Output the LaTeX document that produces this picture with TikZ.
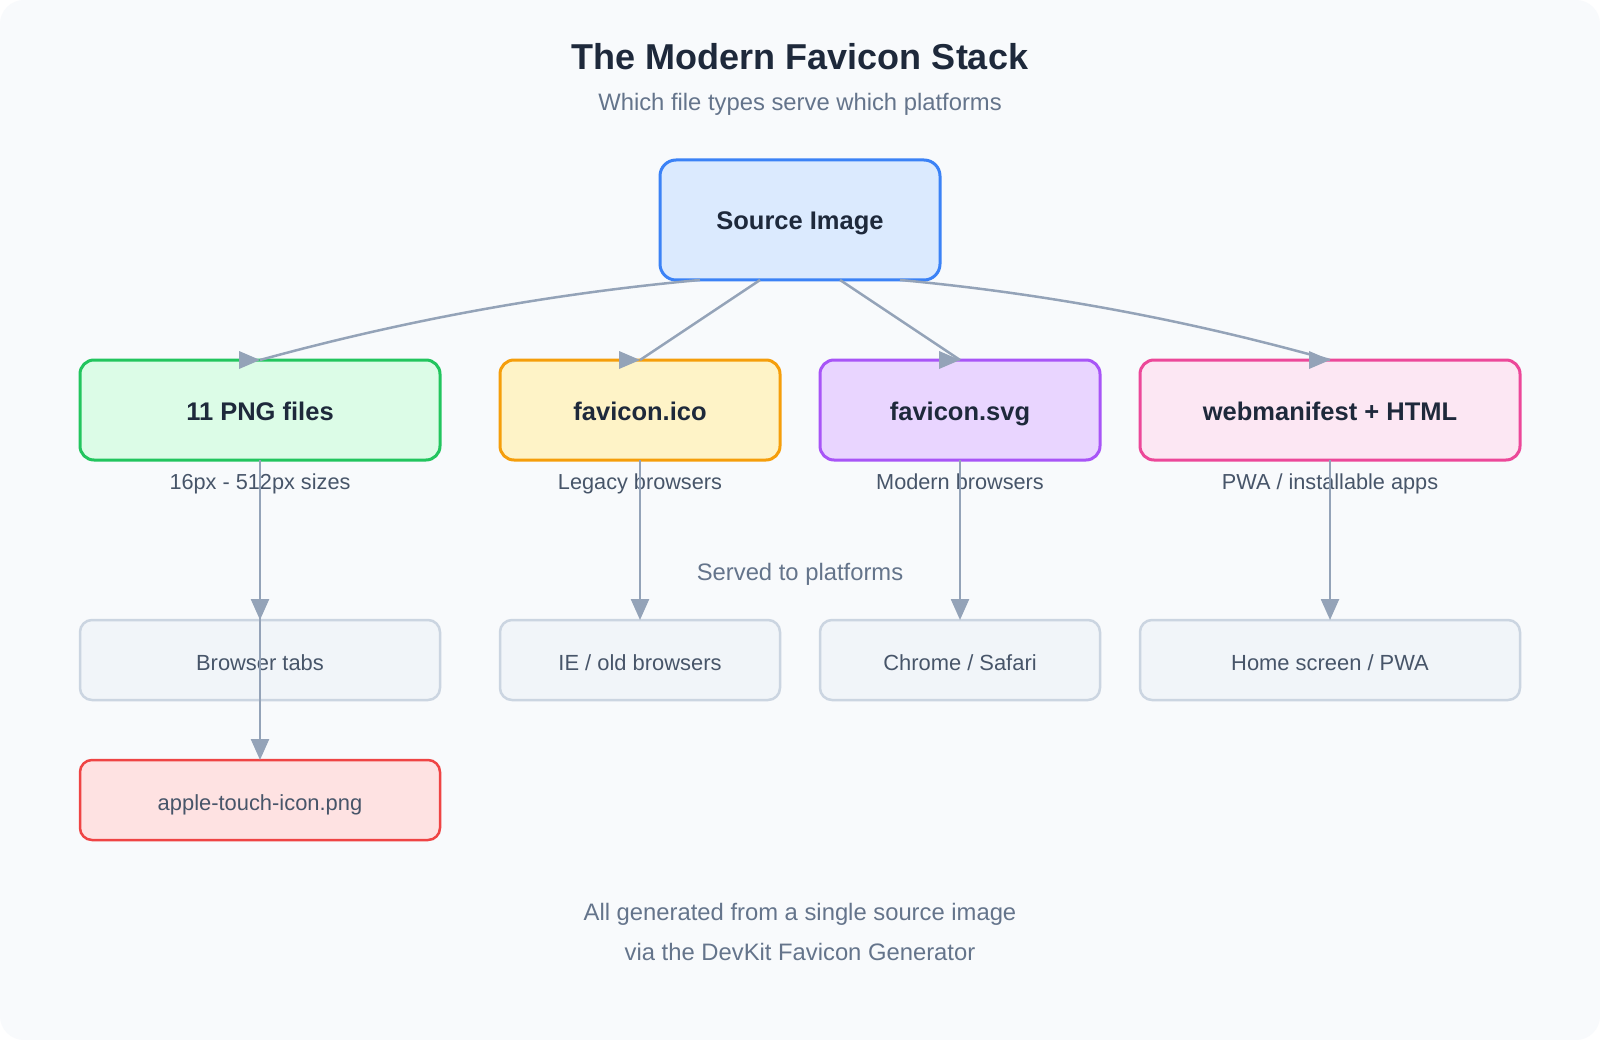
\documentclass[tikz,border=0pt]{standalone}
\usepackage{fontspec}
\setmainfont{Liberation Sans}
\usetikzlibrary{arrows.meta,calc}
\definecolor{bgc}{HTML}{F8FAFC}
\definecolor{ink}{HTML}{1E293B}
\definecolor{muted}{HTML}{64748B}
\definecolor{subc}{HTML}{475569}
\definecolor{arrowc}{HTML}{94A3B8}
\definecolor{srcfill}{HTML}{DBEAFE}\definecolor{srcline}{HTML}{3B82F6}
\definecolor{pngfill}{HTML}{DCFCE7}\definecolor{pngline}{HTML}{22C55E}
\definecolor{icofill}{HTML}{FEF3C7}\definecolor{icoline}{HTML}{F59E0B}
\definecolor{svgfill}{HTML}{E9D5FF}\definecolor{svgline}{HTML}{A855F7}
\definecolor{webfill}{HTML}{FCE7F3}\definecolor{webline}{HTML}{EC4899}
\definecolor{platfill}{HTML}{F1F5F9}\definecolor{platline}{HTML}{CBD5E1}
\definecolor{applefill}{HTML}{FEE2E2}\definecolor{appleline}{HTML}{EF4444}
\tikzset{
  mainbox/.style={rectangle, rounded corners=14pt, line width=3pt, inner sep=0pt, outer sep=0pt,
    minimum height=100pt, text height=20pt, text depth=0pt, text=ink,
    font=\fontsize{25.5}{30}\selectfont\bfseries},
  platbox/.style={rectangle, rounded corners=12pt, line width=2.5pt, inner sep=0pt, outer sep=0pt,
    draw=platline, fill=platfill, minimum height=80pt, text height=20pt, text depth=0pt, text=subc,
    font=\fontsize{21.9}{26}\selectfont},
  sublabel/.style={anchor=base, inner sep=0pt, text=subc, font=\fontsize{21.7}{26}\selectfont},
  note/.style={anchor=base, inner sep=0pt, text=muted, font=\fontsize{23.8}{28}\selectfont},
  conn/.style={draw=arrowc, line width=2.5pt},
  varrow/.style={conn, -{Triangle[length=21pt,width=18pt]}},
  rhead/.pic={\fill[arrowc] (0,0) -- (-21,-9) -- (-21,9) -- cycle;}
}
\begin{document}
\begin{tikzpicture}[x=1pt,y=-1pt]
\useasboundingbox (0,0) rectangle (1600,1040);
\fill[white] (0,0) rectangle (1600,1040);
\fill[bgc, rounded corners=24pt] (0,0) rectangle (1600,1040);

% titles
\node[anchor=base, inner sep=0pt, text=ink, font=\fontsize{36}{43}\selectfont\bfseries] (title) at (800,70) {The Modern Favicon Stack};
\node[note] (subtitle) at (800,111) {Which file types serve which platforms};

% source
\node[mainbox, draw=srcline, fill=srcfill, minimum width=280pt, minimum height=120pt, rounded corners=16pt] (src) at (800,220) {Source Image};

% formats
\node[mainbox, draw=pngline, fill=pngfill, minimum width=360pt] (png) at (260,410) {11 PNG files};
\node[mainbox, draw=icoline, fill=icofill, minimum width=280pt] (ico) at (640,410) {favicon.ico};
\node[mainbox, draw=svgline, fill=svgfill, minimum width=280pt] (svg) at (960,410) {favicon.svg};
\node[mainbox, draw=webline, fill=webfill, minimum width=380pt] (web) at (1330,410) {webmanifest + HTML};

\node[sublabel] (pngsub) at (260,489) {16px - 512px sizes};
\node[sublabel] (icosub) at (640,489) {Legacy browsers};
\node[sublabel] (svgsub) at (960,489) {Modern browsers};
\node[sublabel] (websub) at (1330,489) {PWA / installable apps};

\node[note] (served) at (800,580) {Served to platforms};

% platforms
\node[platbox, minimum width=360pt] (tabs) at (260,660) {Browser tabs};
\node[platbox, minimum width=280pt] (ie) at (640,660) {IE / old browsers};
\node[platbox, minimum width=280pt] (chrome) at (960,660) {Chrome / Safari};
\node[platbox, minimum width=380pt] (home) at (1330,660) {Home screen / PWA};

\node[platbox, draw=appleline, fill=applefill, minimum width=360pt] (apple) at (260,800) {apple-touch-icon.png};

% footer
\node[note] (foot1) at (800,920) {All generated from a single source image};
\node[note] (foot2) at (800,960) {via the DevKit Favicon Generator};

% connectors from source
\draw[conn] ($(src.south)+(-100,0)$) .. controls (553.3,293.3) and (406.7,319.7) .. (png.north);
\draw[conn] ($(src.south)+(-40,0)$) -- (ico.north);
\draw[conn] ($(src.south)+(40,0)$) -- (svg.north);
\draw[conn] ($(src.south)+(100,0)$) .. controls (1043.3,293.3) and (1186.7,319.7) .. (web.north);
\pic at (png.north) {rhead};
\pic at (ico.north) {rhead};
\pic at (svg.north) {rhead};
\pic at (web.north) {rhead};

% connectors to platforms
\draw[varrow] (png.south) -- (tabs.north);
\draw[varrow] (png.south) -- (apple.north);
\draw[varrow] (ico.south) -- (ie.north);
\draw[varrow] (svg.south) -- (chrome.north);
\draw[varrow] (web.south) -- (home.north);
\end{tikzpicture}
\end{document}
